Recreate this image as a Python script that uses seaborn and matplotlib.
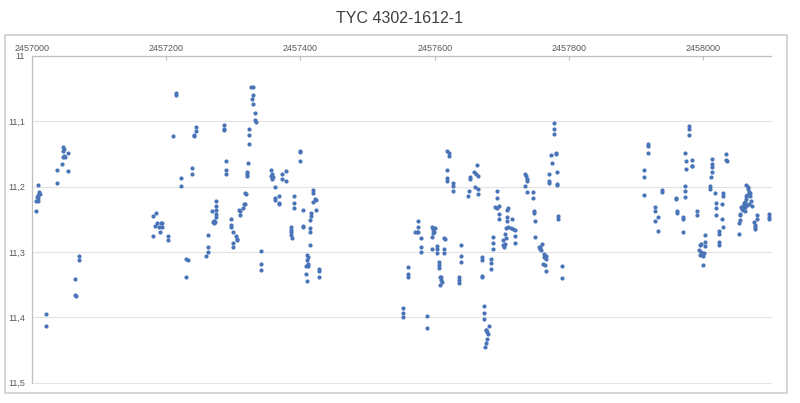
import numpy as np
import pandas as pd
import matplotlib
matplotlib.use("Agg")
import matplotlib.pyplot as plt
import seaborn as sns
from matplotlib.patches import Rectangle

title = "TYC 4302-1612-1"
jd_base = 2457000

# JD - 2457000 and magnitude
jd_offset = [
    9, 11, 12, 10, 8, 10, 7, 10, 7,
    21, 21,
    38, 38, 45, 47, 48, 46, 48, 49, 46, 54, 54,
    65, 65, 66, 71, 71,
    181, 185, 181, 184, 187, 189, 191, 192, 194, 194,
    203, 203, 211, 215, 215, 223, 223, 230, 232, 230, 238, 238,
    241, 241, 245, 245, 260, 263, 263, 263,
    269, 270, 271, 272, 273, 274, 275, 275, 275, 275, 272,
    286, 286, 286, 290, 290, 290,
    297, 297, 297, 300, 300, 299, 304, 305, 305,
    309, 310, 310, 315, 316, 318, 318, 319,
    320, 320, 320, 322, 323, 323, 323,
    327, 329, 329, 328, 329, 333, 333, 334, 342, 342, 342,
    356, 357, 356, 358, 359, 362, 362, 362, 368, 368, 368,
    372, 372, 378, 378, 391, 391, 391, 386, 386, 386, 386, 387,
    399, 399, 399, 404, 404, 404,
    410, 411, 410, 411, 411, 408, 408, 410, 414,
    414, 414, 415, 416, 416, 419, 419, 419, 422, 423, 423,
    428, 428, 428,
    553, 553, 553, 560, 560, 560,
    570, 573, 575, 575, 575, 579, 579, 579, 588, 588,
    596, 597, 598, 599, 597, 596, 600, 596,
    603, 603, 603, 607, 607, 607, 608, 610, 610, 611, 608,
    614, 616, 614, 614, 618, 621, 621, 618, 618, 618,
    627, 627, 627, 636, 636, 636, 639, 639, 639,
    651, 650, 653, 653, 658, 661, 663, 664, 660, 664, 664,
    670, 670, 671, 671,
    673, 673, 673, 676, 677, 678, 679, 678, 677, 675, 681,
    684, 684, 684, 686, 686, 686,
    693, 693, 689, 692, 695, 696, 696,
    701, 702, 703, 704, 704, 706, 706, 707, 708, 707, 709, 709,
    715, 714, 716, 720, 720, 720,
    735, 736, 737, 738, 735, 738, 746, 746,
    747, 748, 749, 749,
    755, 756, 757, 759, 758, 762, 762, 764, 766, 765, 761, 764, 766,
    770, 770, 770, 773, 774, 780, 781, 782, 777, 777, 777,
    782, 782, 784, 784, 790, 790,
    912, 912, 912, 917, 917, 917,
    928, 928, 933, 928, 933, 939, 939,
    959, 959, 960, 960, 969, 969, 969, 972, 972, 972,
    973, 974, 974, 978, 978, 978, 983, 983, 983, 990, 990,
    995, 997, 994, 997, 995, 1000, 1002, 1002, 1003, 999, 1001,
    1009, 1009, 1011, 1012, 1012, 1013, 1013,
    1017, 1018, 1019, 1019, 1023, 1023, 1023, 1023,
    1029, 1029, 1028, 1028, 1029, 1034, 1034, 1035,
    1053, 1053, 1054, 1054, 1055, 1056, 1058, 1060, 1059, 1062, 1060,
    1062, 1063, 1064, 1065, 1064, 1066, 1067, 1068, 1070, 1069, 1071,
    1072, 1068, 1065, 1062, 1057, 1060,
    1075, 1077, 1076, 1079, 1079, 1077,
    1097, 1097, 1097,
]

magnitude = [
    11.197, 11.208, 11.211, 11.213, 11.216, 11.218, 11.222, 11.222, 11.238,
    11.395, 11.414,
    11.195, 11.175, 11.165, 11.140, 11.143, 11.145, 11.153, 11.154, 11.155, 11.149, 11.176,
    11.341, 11.366, 11.368, 11.306, 11.312,
    11.245, 11.241, 11.276, 11.260, 11.255, 11.261, 11.270, 11.256, 11.256, 11.262,
    11.276, 11.282, 11.122, 11.056, 11.059, 11.187, 11.199, 11.310, 11.312, 11.339, 11.172, 11.181,
    11.121, 11.123, 11.108, 11.115, 11.306, 11.300, 11.293, 11.274,
    11.238, 11.254, 11.252, 11.255, 11.254, 11.247, 11.242, 11.236, 11.230, 11.222, 11.252,
    11.105, 11.111, 11.114, 11.161, 11.174, 11.181,
    11.250, 11.259, 11.261, 11.270, 11.286, 11.293, 11.275, 11.280, 11.281,
    11.236, 11.238, 11.243, 11.233, 11.226, 11.226, 11.209, 11.211,
    11.178, 11.181, 11.184, 11.164, 11.134, 11.121, 11.112,
    11.048, 11.048, 11.060, 11.066, 11.074, 11.087, 11.098, 11.101, 11.298, 11.319, 11.327,
    11.174, 11.180, 11.184, 11.188, 11.185, 11.200, 11.217, 11.221, 11.215, 11.225, 11.227,
    11.181, 11.188, 11.176, 11.192, 11.215, 11.225, 11.232, 11.262, 11.266, 11.269, 11.274, 11.279,
    11.145, 11.147, 11.160, 11.236, 11.260, 11.262,
    11.305, 11.307, 11.313, 11.319, 11.322, 11.322, 11.333, 11.345, 11.290,
    11.270, 11.264, 11.251, 11.245, 11.240, 11.205, 11.209, 11.223, 11.219, 11.221, 11.236,
    11.326, 11.329, 11.338,
    11.386, 11.393, 11.400, 11.323, 11.334, 11.338,
    11.269, 11.269, 11.261, 11.252, 11.269, 11.278, 11.293, 11.300, 11.398, 11.417,
    11.261, 11.264, 11.266, 11.269, 11.271, 11.277, 11.264, 11.295,
    11.291, 11.295, 11.301, 11.316, 11.320, 11.324, 11.338, 11.339, 11.343, 11.346, 11.351,
    11.278, 11.280, 11.295, 11.302, 11.145, 11.148, 11.153, 11.175, 11.186, 11.192,
    11.195, 11.199, 11.206, 11.339, 11.343, 11.347, 11.290, 11.306, 11.316,
    11.207, 11.214, 11.185, 11.189, 11.178, 11.181, 11.167, 11.183, 11.201, 11.203, 11.211,
    11.308, 11.312, 11.336, 11.339,
    11.382, 11.393, 11.402, 11.419, 11.420, 11.422, 11.425, 11.433, 11.440, 11.445, 11.414,
    11.310, 11.317, 11.326, 11.277, 11.286, 11.295,
    11.206, 11.218, 11.231, 11.232, 11.230, 11.242, 11.249,
    11.282, 11.289, 11.292, 11.287, 11.273, 11.279, 11.264, 11.253, 11.246, 11.235, 11.233, 11.261,
    11.249, 11.263, 11.265, 11.267, 11.275, 11.286,
    11.180, 11.183, 11.188, 11.191, 11.199, 11.208, 11.208, 11.218,
    11.238, 11.240, 11.252, 11.277,
    11.292, 11.293, 11.296, 11.288, 11.297, 11.303, 11.307, 11.308, 11.306, 11.311, 11.318, 11.320, 11.329,
    11.181, 11.191, 11.194, 11.151, 11.164, 11.148, 11.150, 11.178, 11.102, 11.112, 11.120,
    11.196, 11.198, 11.245, 11.250, 11.321, 11.340,
    11.175, 11.185, 11.212, 11.135, 11.138, 11.149,
    11.231, 11.238, 11.246, 11.252, 11.268, 11.205, 11.208,
    11.217, 11.219, 11.238, 11.240, 11.247, 11.250, 11.269, 11.199, 11.206, 11.216,
    11.149, 11.161, 11.173, 11.107, 11.111, 11.121, 11.159, 11.168, 11.169, 11.238, 11.244,
    11.289, 11.287, 11.297, 11.300, 11.305, 11.306, 11.274, 11.284, 11.291, 11.320, 11.302,
    11.199, 11.203, 11.185, 11.178, 11.170, 11.165, 11.157,
    11.210, 11.225, 11.233, 11.243, 11.268, 11.272, 11.285, 11.289,
    11.210, 11.214, 11.227, 11.250, 11.262, 11.150, 11.159, 11.161,
    11.273, 11.255, 11.251, 11.243, 11.242, 11.231, 11.232, 11.228, 11.236, 11.238, 11.227,
    11.223, 11.219, 11.215, 11.213, 11.198, 11.200, 11.204, 11.208, 11.209, 11.215, 11.222,
    11.229, 11.226, 11.228, 11.231, 11.234, 11.225,
    11.254, 11.259, 11.262, 11.243, 11.250, 11.265,
    11.242, 11.246, 11.250,
]

x_ticks = [2457000, 2457200, 2457400, 2457600, 2457800, 2458000]
y_ticks = [11.0, 11.1, 11.2, 11.3, 11.4, 11.5]
y_tick_labels = ["11", "11,1", "11,2", "11,3", "11,4", "11,5"]

df = pd.DataFrame({"jd": jd_base + np.array(jd_offset), "mag": magnitude})

sns.set_style("white")
plt.rcParams['font.family'] = ['Liberation Sans', 'DejaVu Sans']

fig = plt.figure(figsize=(8.0, 4.03), dpi=100)
ax = fig.add_axes([0.0396, 0.0504, 0.9237, 0.8107])

sns.scatterplot(data=df, x="jd", y="mag", ax=ax, s=9, color="#4A74B8",
                linewidth=0, legend=False)

ax.set_xlim(2457000, 2458100)
ax.set_ylim(11.5, 11.0)
ax.xaxis.tick_top()
ax.set_xticks(x_ticks)
ax.set_xticklabels([str(t) for t in x_ticks])
ax.set_yticks(y_ticks)
ax.set_yticklabels(y_tick_labels)
ax.set_xlabel("")
ax.set_ylabel("")
ax.tick_params(axis="both", labelsize=6.5, colors="#595959", length=3,
               width=0.8, pad=2)
ax.tick_params(axis="y", direction="out", color="#BFBFBF")
ax.tick_params(axis="x", direction="in", color="#BFBFBF")

ax.yaxis.grid(True, color="#E3E3E3", linewidth=0.8)
for line in ax.get_ygridlines():
    line.set_clip_on(False)
ax.set_axisbelow(True)
for side in ["bottom", "right"]:
    ax.spines[side].set_visible(False)
for side in ["left", "top"]:
    ax.spines[side].set_color("#BFBFBF")
    ax.spines[side].set_linewidth(0.9)

fig.text(0.5, 0.955, title, ha="center", va="center", fontsize=11.5,
         color="#404040")

fig.patches.append(Rectangle((0.006, 0.025), 0.978, 0.888,
                             transform=fig.transFigure, fill=False,
                             edgecolor="#D0D0D0", linewidth=1.2))

plt.savefig("out.png", dpi=100, facecolor="white")
